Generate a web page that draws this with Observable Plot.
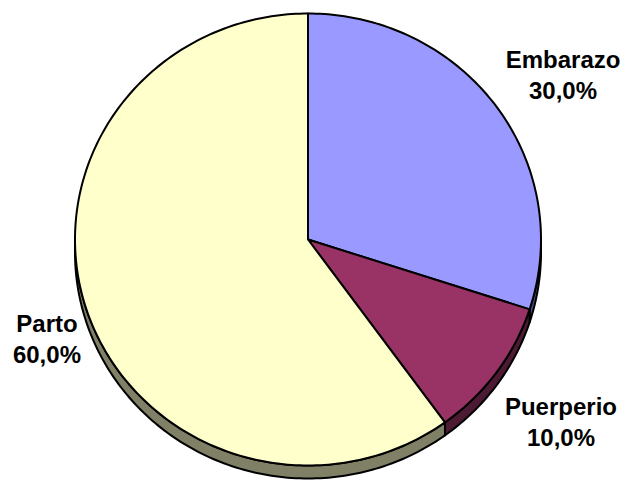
<!DOCTYPE html>
<html>
<head>
<meta charset="utf-8">
<script src="https://cdn.jsdelivr.net/npm/d3@7"></script>
<script src="https://cdn.jsdelivr.net/npm/@observablehq/plot@0.6"></script>
<style>
  html, body { margin: 0; padding: 0; background: #fff; }
  #chart svg { display: block; }
</style>
</head>
<body>
<div id="chart"></div>
<script>
// ---- data ----
const categories = ["Embarazo", "Puerperio", "Parto"];
const values = [30, 10, 60];
const valueLabels = ["30,0%", "10,0%", "60,0%"];
const topColors = ["#9999FF", "#993366", "#FFFFCC"];
const sideColors = ["#4D4D80", "#4D1A33", "#808066"];

// ---- layout ----
const W = 627, H = 481;
const cx = 307.5, cy = 239, rx = 233, ry = 226, depth = 13;
const labelFactor = [[1.353, 1.25], [1.342, 1.36], [1.178, 1.40]];

const total = d3.sum(values);
const rad = Math.PI / 180;
function pt(deg, dy = 0) {
  return { x: cx + rx * Math.sin(deg * rad), y: cy - ry * Math.cos(deg * rad) + dy };
}
function arc(a0, a1, dy = 0) {
  const pts = [];
  const n = Math.max(2, Math.ceil(Math.abs(a1 - a0)));
  for (let i = 0; i <= n; i++) pts.push(pt(a0 + (a1 - a0) * i / n, dy));
  return pts;
}

let acc = 0;
const slices = categories.map((c, i) => {
  const a0 = acc / total * 360;
  acc += values[i];
  const a1 = acc / total * 360;
  return { name: c, value: values[i], label: valueLabels[i], a0, a1, i };
});

const marks = [];
// side walls (front half: 90..270 degrees)
slices.forEach(s => {
  const s0 = Math.max(s.a0, 90), s1 = Math.min(s.a1, 270);
  if (s1 > s0) {
    const poly = [...arc(s0, s1), ...arc(s1, s0, depth)];
    marks.push(Plot.line(poly, {
      x: "x", y: "y", curve: "linear-closed",
      fill: sideColors[s.i], stroke: "black", strokeWidth: 2, strokeLinejoin: "round"
    }));
  }
});
// top faces
slices.forEach(s => {
  const poly = [{ x: cx, y: cy }, ...arc(s.a0, s.a1)];
  marks.push(Plot.line(poly, {
    x: "x", y: "y", curve: "linear-closed",
    fill: topColors[s.i], stroke: "black", strokeWidth: 2, strokeLinejoin: "round"
  }));
});
// labels
const labelData = slices.map(s => {
  const m = (s.a0 + s.a1) / 2;
  const [kx, ky] = labelFactor[s.i];
  return {
    text: s.name + "\n" + s.label,
    x: cx + rx * kx * Math.sin(m * rad),
    y: cy - ry * ky * Math.cos(m * rad)
  };
});
marks.push(Plot.text(labelData, {
  x: "x", y: "y", text: "text",
  fontSize: 24, fontWeight: "bold", fill: "black",
  lineHeight: 1.3, lineAnchor: "middle", textAnchor: "middle",
  fontFamily: "'Liberation Sans', Arial, sans-serif"
}));

const chart = Plot.plot({
  width: W, height: H,
  margin: 0,
  x: { domain: [0, W], range: [0, W], axis: null },
  y: { domain: [0, H], range: [0, H], axis: null },
  style: { background: "#fff" },
  marks
});
document.getElementById("chart").appendChild(chart);
</script>
</body>
</html>
